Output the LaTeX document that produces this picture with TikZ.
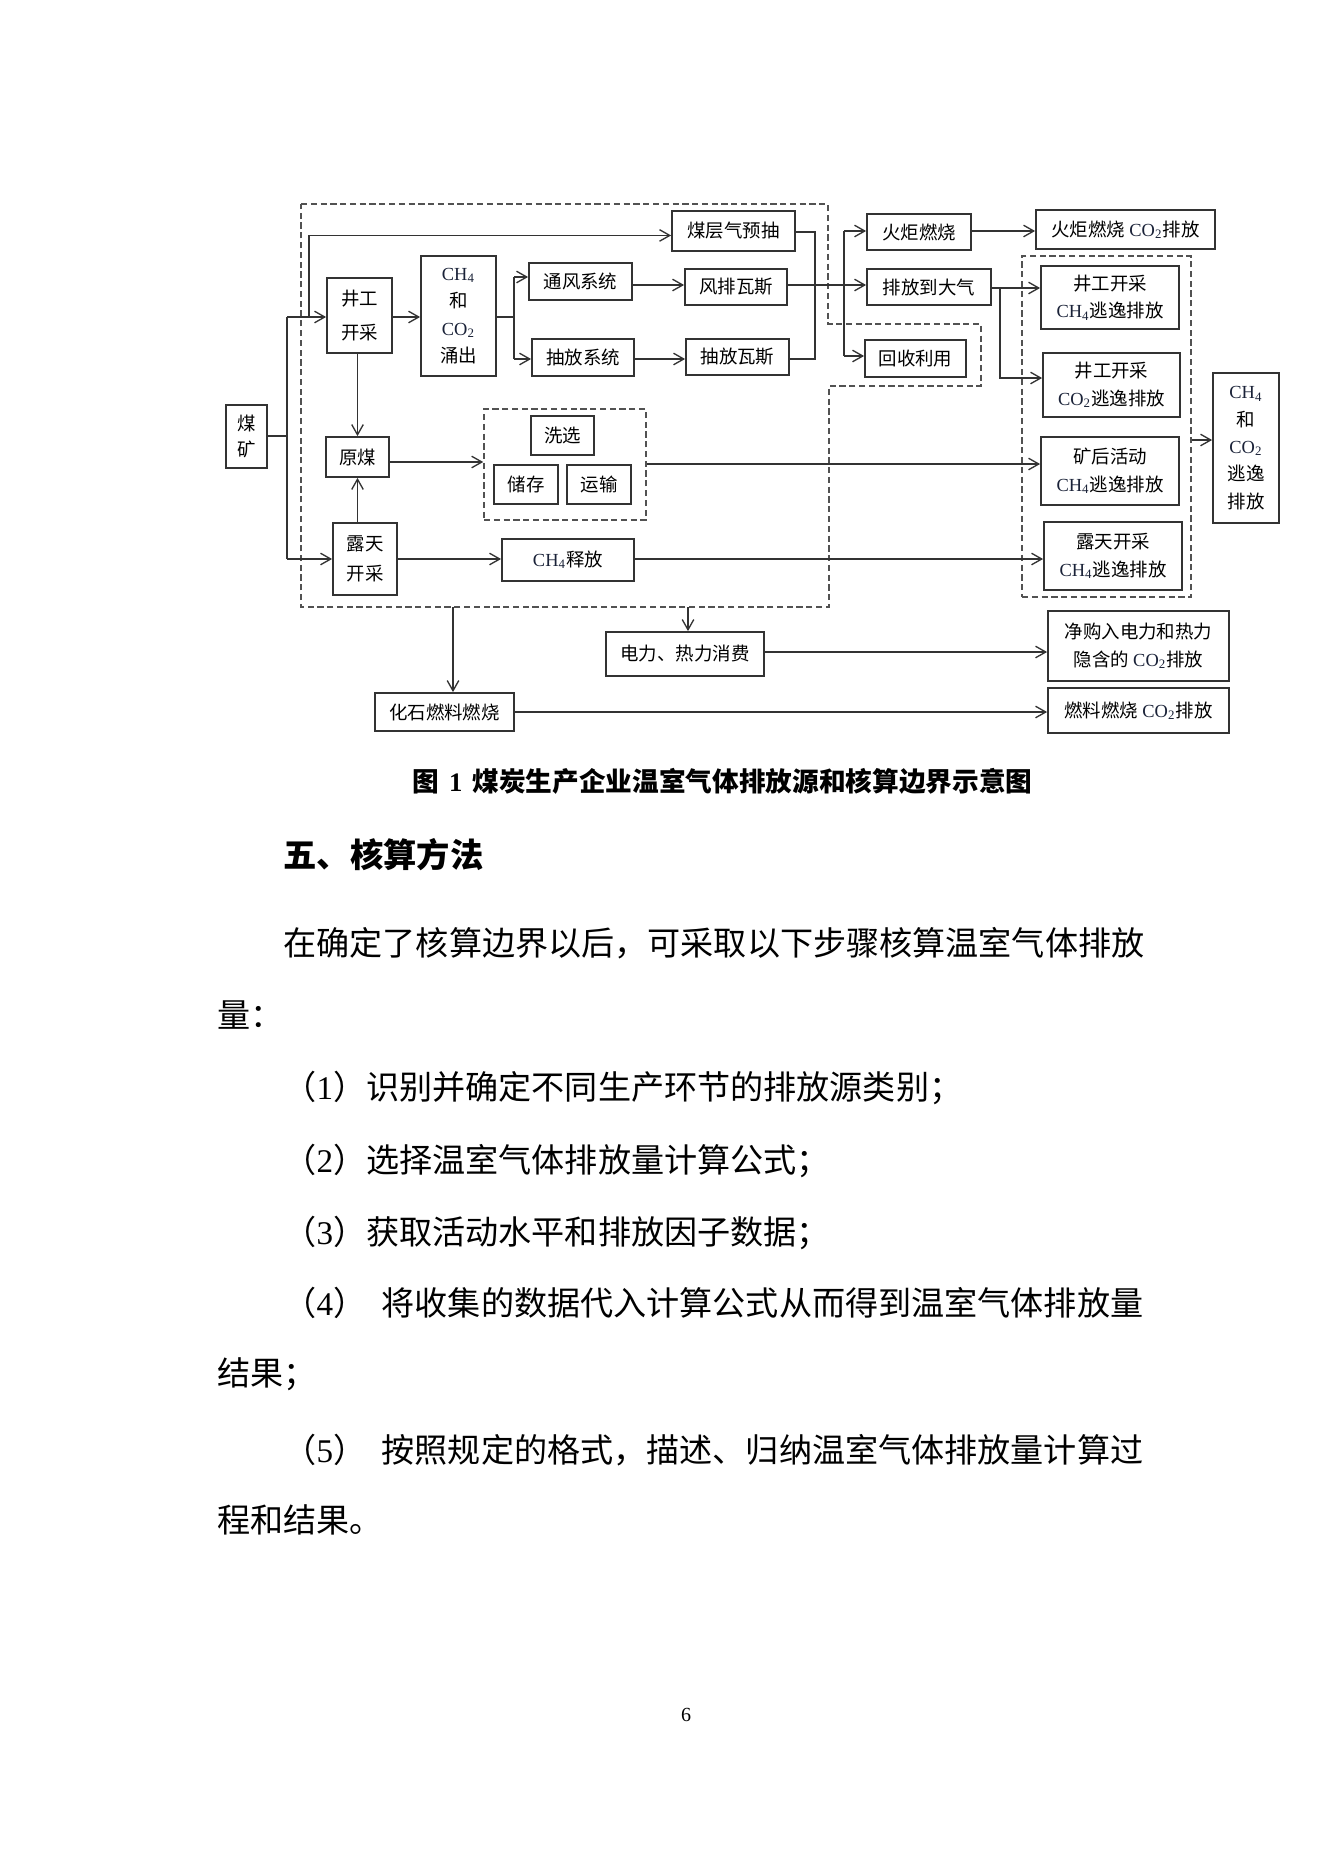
\documentclass[tikz,border=0pt]{standalone}
\usepackage{fontspec}
\setmainfont{Noto Sans CJK SC}
\newfontfamily\tnr{Liberation Serif}
\usetikzlibrary{arrows.meta, fit}
\definecolor{Ink}{HTML}{333333}
\definecolor{Chem}{HTML}{1A2238}
\newcommand{\CHfour}{{\tnr\color{Chem}CH\textsubscript{4}}}
\newcommand{\COtwo}{{\tnr\color{Chem}CO\textsubscript{2}}}

\begin{document}
\begin{tikzpicture}[
    x=0.45pt, y=-0.45pt,
    box/.style={
        draw=Ink, line width=0.8pt, inner sep=0pt,
        font=\fontsize{8.3}{12.3}\selectfont
    },
    sz/.style 2 args={minimum width=#1*0.45pt, minimum height=#2*0.45pt},
    grp/.style={draw=Ink!85, line width=0.7pt, dash pattern=on 2.8pt off 1.6pt, inner sep=0pt},
    arr/.style={-{Straight Barb[length=4.6pt, width=5.2pt]}, line width=0.6pt, draw=Ink},
    ln/.style={line width=0.6pt, draw=Ink},
    body/.style={anchor=base west, inner sep=0pt, font=\fontsize{14.9}{18}\selectfont}
]
\useasboundingbox (0,0) rectangle (1323,1871);

% === Mining and gas handling ===
\node[box, sz={41}{63}, align=center] (mine) at (246.5,436.5) {煤\\[-0.8pt]矿};
\node[box, sz={65}{75}, align=center] (shaft) at (359.5,315.5) {井工\\[3pt]开采};
\node[box, sz={75}{120}, align=center] (gush) at (458.5,316) {\CHfour\\和\\\COtwo\\涌出};
\node[box, sz={103}{37}] (vent) at (580.5,281.5) {通风系统};
\node[box, sz={102}{37}] (drain) at (583,357.5) {抽放系统};
\node[box, sz={123}{40}] (precbm) at (733.5,231) {煤层气预抽};
\node[box, sz={102}{36}] (ventgas) at (736,287) {风排瓦斯};
\node[box, sz={103}{36}] (draingas) at (737.5,357) {抽放瓦斯};
\node[box, sz={104}{36}] (flare) at (919,232) {火炬燃烧};
\node[box, sz={124}{36}] (atmos) at (929,287) {排放到大气};
\node[box, sz={101}{37}] (reuse) at (915.5,358.5) {回收利用};

% === Raw coal and surface mining ===
\node[box, sz={63}{40}] (raw) at (357.5,457) {原煤};
\node[box, sz={63}{39}] (wash) at (562.5,435.5) {洗选};
\node[box, sz={64}{39}] (store) at (526,484.5) {储存};
\node[box, sz={64}{39}] (trans) at (599,484.5) {运输};
\node[box, sz={64}{72}, align=center] (surface) at (365,559) {露天\\[1.5pt]开采};
\node[box, sz={132}{42}] (ch4rel) at (568,560) {\CHfour 释放};

% === Emission sources ===
\node[box, sz={179}{39}] (flareco2) at (1125.5,229.5) {火炬燃烧 \COtwo 排放};
\node[box, sz={138}{63}, align=center] (ugch4) at (1110,297.5) {井工开采\\\CHfour 逃逸排放};
\node[box, sz={137}{64}, align=center] (ugco2) at (1111.5,385) {井工开采\\\COtwo 逃逸排放};
\node[box, sz={138}{68}, align=center] (postch4) at (1110,471) {矿后活动\\\CHfour 逃逸排放};
\node[box, sz={138}{68}, align=center] (surfch4) at (1113,556) {露天开采\\\CHfour 逃逸排放};
\node[box, sz={66}{150}, align=center] (fugitive) at (1246,448) {\CHfour\\和\\\COtwo\\逃逸\\排放};

% === Energy use ===
\node[box, sz={158}{44}] (power) at (685,654) {电力、热力消费};
\node[box, sz={139}{38}] (fossil) at (444.5,712) {化石燃料燃烧};
\node[box, sz={181}{70}, align=center] (indirect) at (1138.5,646) {净购入电力和热力\\隐含的 \COtwo 排放};
\node[box, sz={181}{45}] (fuelco2) at (1138.5,710.5) {燃料燃烧 \COtwo 排放};

% === Dashed groups and boundary ===
\node[grp, fit={(484,409) (646,520)}] (washgrp) {};
\node[grp, fit={(1022,256) (1191,597)}] (emitgrp) {};
\draw[grp] (301,204) -- (828,204) -- (828,324) -- (981,324) -- (981,386)
    -- (829,386) -- (829,607) -- (301,607) -- cycle;
\coordinate (bfos) at (453,607);
\coordinate (bpow) at (688,607);

% === Connectors ===
\coordinate (split) at (287,436);
\coordinate (tug) at (287,317);
\coordinate (toc) at (287,559);
\coordinate (tpre) at (309,317);
\draw[ln] (mine.east |- split) -- (split);
\draw[ln] (tug) -- (toc);
\draw[arr] (tug) -- (tug -| shaft.west);
\draw[arr] (toc) -- (toc -| surface.west);
\draw[arr] (tpre) |- ([yshift=-2pt]precbm.west);

\coordinate (tvent) at (514,277);
\coordinate (tdrain) at (514,359);
\draw[arr] (shaft.east |- tug) -- (gush.west |- tug);
\draw[ln] (gush.east |- tug) -- (tug -| tvent);
\draw[ln] (tvent) -- (tdrain);
\draw[arr] (tvent) -- (tvent -| vent.west);
\draw[arr] (tdrain) -- (tdrain -| drain.west);

\coordinate (yvg) at (0,285);
\draw[arr] (vent.east |- yvg) -- (ventgas.west |- yvg);
\draw[arr] (drain.east |- tdrain) -- (draingas.west |- tdrain);
\coordinate (tcol) at (815,232);
\draw[ln] (precbm.east |- tcol) -- (tcol) |- (draingas.east |- tdrain);
\draw[arr] (ventgas.east |- yvg) -- (atmos.west |- yvg);

\coordinate (tfl) at (844,231);
\coordinate (trc) at (844,356);
\draw[ln] (tfl) -- (trc);
\draw[arr] (tfl) -- (tfl -| flare.west);
\draw[arr] (trc) -- (trc -| reuse.west);
\draw[arr] (flare.east |- tfl) -- (flareco2.west |- tfl);

\coordinate (tatm) at (1000,288);
\coordinate (tco2) at (1000,378);
\draw[arr] (atmos.east |- tatm) -- (ugch4.west |- tatm);
\draw[arr] (tatm) |- (ugco2.west |- tco2);

\coordinate (yraw) at (0,462);
\coordinate (ypost) at (0,464);
\coordinate (ysurf) at (0,559);
\coordinate (yfug) at (0,440);
\draw[arr] (raw.north |- shaft.south) -- (raw.north);
\draw[arr] (raw.south |- surface.north) -- (raw.south);
\draw[arr] (raw.east |- yraw) -- (washgrp.west |- yraw);
\draw[arr] (washgrp.east |- ypost) -- (postch4.west |- ypost);
\draw[arr] (surface.east |- ysurf) -- (ch4rel.west |- ysurf);
\draw[arr] (ch4rel.east |- ysurf) -- (surfch4.west |- ysurf);
\draw[arr] (emitgrp.east |- yfug) -- (fugitive.west |- yfug);

\coordinate (ypow) at (0,652);
\draw[arr] (bfos) -- (bfos |- fossil.north);
\draw[arr] (bpow) -- (bpow |- power.north);
\draw[arr] (power.east |- ypow) -- (indirect.west |- ypow);
\draw[arr] (fossil.east) -- (fuelco2.west |- fossil.east);

% === Caption and text ===
\node[anchor=base west, inner sep=0pt, font=\fontsize{12}{14}\selectfont\bfseries] (cap) at (412,791)
    {图\hspace{4.5pt}{\tnr\bfseries 1}\hspace{4.5pt}煤炭生产企业温室气体排放源和核算边界示意图};
\node[anchor=base west, inner sep=0pt, font=\fontsize{15}{18}\selectfont\bfseries] (head) at (283,867)
    {五、核算方法};
\node[body] (intro) at (283,955) {在确定了核算边界以后，可采取以下步骤核算温室气体排放};
\node[body] (introb) at (217,1027) {量：};
\node[body] (stepa) at (283,1099) {（{\tnr 1}）识别并确定不同生产环节的排放源类别；};
\node[body] (stepb) at (283,1172) {（{\tnr 2}）选择温室气体排放量计算公式；};
\node[body] (stepc) at (283,1244) {（{\tnr 3}）获取活动水平和排放因子数据；};
\node[body] (stepd) at (283,1315) {（{\tnr 4}）\hspace{7pt}将收集的数据代入计算公式从而得到温室气体排放量};
\node[body] (stepdb) at (217,1385) {结果；};
\node[body] (stepe) at (283,1462) {（{\tnr 5}）\hspace{7pt}按照规定的格式，描述、归纳温室气体排放量计算过};
\node[body] (stepeb) at (217,1532) {程和结果。};
\node[font=\tnr\fontsize{9}{10}\selectfont] (pg) at (686,1715) {6};

\end{tikzpicture}
\end{document}
